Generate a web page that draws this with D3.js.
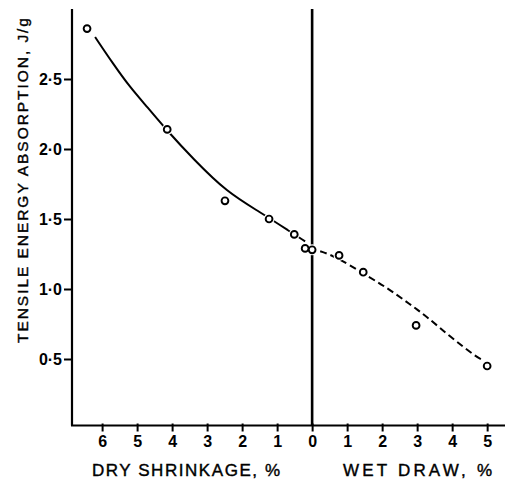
<!DOCTYPE html>
<html>
<head>
<meta charset="utf-8">
<script src="https://cdn.jsdelivr.net/npm/d3@7"></script>
<style>
  body { margin: 0; background: #fff; }
  svg { display: block; }
  text { font-family: "Liberation Sans", Arial, sans-serif; fill: #000; }
  .title { stroke: #000; stroke-width: 0.4; }
</style>
</head>
<body>
<div id="chart"></div>
<script>
// measured points: negative x = dry shrinkage, positive x = wet draw
const pointX = [-6.43, -4.14, -2.49, -1.23, -0.51, -0.2, 0, 0.77, 1.46, 2.97, 5.0]
const pointY = [2.86, 2.14, 1.63, 1.50, 1.39, 1.29, 1.28, 1.24, 1.12, 0.74, 0.45]

// hand-drawn fitted curve, solid (dry side) and dashed (wet side)
const solidX = [-6.20, -5.69, -5.20, -4.71, -4.14, -3.40, -2.43, -1.49, -0.63, -0.2]
const solidY = [2.80, 2.61, 2.44, 2.30, 2.13, 1.93, 1.69, 1.55, 1.41, 1.34]
const dashX = [0.23, 0.69, 1.46, 2.14, 2.80, 3.29, 3.94, 4.71, 4.91]
const dashY = [1.27, 1.23, 1.11, 1.01, 0.89, 0.80, 0.66, 0.51, 0.49]

const xTicks = [-6, -5, -4, -3, -2, -1, 0, 1, 2, 3, 4, 5]
const yTicks = [0.5, 1.0, 1.5, 2.0, 2.5]

const width = 505
const height = 483

const svg = d3.select('#chart')
  .append('svg')
  .attr('width', width)
  .attr('height', height)

const x = d3.scaleLinear().domain([-6.86, 5.51]).range([72, 505])
const y = d3.scaleLinear().domain([0.025, 3]).range([425.5, 9])

// axes (ticks + labels only, domain lines drawn by hand below)
const xAxis = svg.append('g')
  .attr('transform', `translate(0,${y(0.025)})`)
  .call(d3.axisBottom(x).tickValues(xTicks).tickSize(6).tickPadding(4)
    .tickFormat(d => Math.abs(d)))
xAxis.select('.domain').remove()
xAxis.selectAll('line').attr('stroke', '#000').attr('stroke-width', 2).attr('y1', -2)
xAxis.selectAll('text')
  .attr('font-size', 16).attr('font-weight', 'bold')
  .attr('dy', null).attr('y', 21.5)

const yAxis = svg.append('g')
  .attr('transform', `translate(${x(-6.86)},0)`)
  .call(d3.axisLeft(y).tickValues(yTicks).tickSize(8).tickPadding(2)
    .tickFormat(d => d3.format('.1f')(d).replace('.', '·')))
yAxis.select('.domain').remove()
yAxis.selectAll('line').attr('stroke', '#000').attr('stroke-width', 2)
yAxis.selectAll('text')
  .attr('font-size', 16).attr('font-weight', 'bold')

// frame lines
svg.append('line')
  .attr('x1', x(-6.86)).attr('x2', x(-6.86))
  .attr('y1', y(3)).attr('y2', y(0.025))
  .attr('stroke', '#000').attr('stroke-width', 2.2)
svg.append('line')
  .attr('x1', x(-6.86) - 1).attr('x2', width)
  .attr('y1', y(0.025)).attr('y2', y(0.025))
  .attr('stroke', '#000').attr('stroke-width', 2)
svg.append('line')
  .attr('x1', x(0)).attr('x2', x(0))
  .attr('y1', y(3)).attr('y2', y(0.025))
  .attr('stroke', '#000').attr('stroke-width', 2.6)

// curves
const line = d3.line()
  .x(d => x(d[0]))
  .y(d => y(d[1]))
  .curve(d3.curveBasis)

svg.append('path')
  .datum(d3.zip(solidX, solidY))
  .attr('d', line)
  .attr('fill', 'none')
  .attr('stroke', '#000')
  .attr('stroke-width', 2)

svg.append('path')
  .datum(d3.zip(dashX, dashY))
  .attr('d', line)
  .attr('fill', 'none')
  .attr('stroke', '#000')
  .attr('stroke-width', 2)
  .attr('stroke-dasharray', '7,4')

// markers, with white halo to break the line like the original
const pts = d3.zip(pointX, pointY)
svg.append('g').selectAll('circle')
  .data(pts)
  .join('circle')
  .attr('cx', d => x(d[0]))
  .attr('cy', d => y(d[1]))
  .attr('r', 5.5)
  .attr('fill', '#fff')
svg.append('g').selectAll('circle')
  .data(pts)
  .join('circle')
  .attr('cx', d => x(d[0]))
  .attr('cy', d => y(d[1]))
  .attr('r', 3.4)
  .attr('fill', '#fff')
  .attr('stroke', '#000')
  .attr('stroke-width', 1.9)

// titles
svg.append('text')
  .attr('class', 'title')
  .attr('transform', 'translate(28,180.5) rotate(-90)')
  .attr('text-anchor', 'middle')
  .attr('font-size', 15.5)
  .attr('textLength', 325)
  .attr('lengthAdjust', 'spacing')
  .text('TENSILE ENERGY ABSORPTION, J/g')

svg.append('text')
  .attr('class', 'title')
  .attr('x', 92).attr('y', 476)
  .attr('font-size', 17)
  .attr('textLength', 188)
  .attr('lengthAdjust', 'spacing')
  .text('DRY SHRINKAGE, %')

svg.append('text')
  .attr('class', 'title')
  .attr('x', 343).attr('y', 476)
  .attr('font-size', 17)
  .attr('textLength', 149)
  .attr('lengthAdjust', 'spacing')
  .text('WET DRAW, %')
</script>
</body>
</html>
